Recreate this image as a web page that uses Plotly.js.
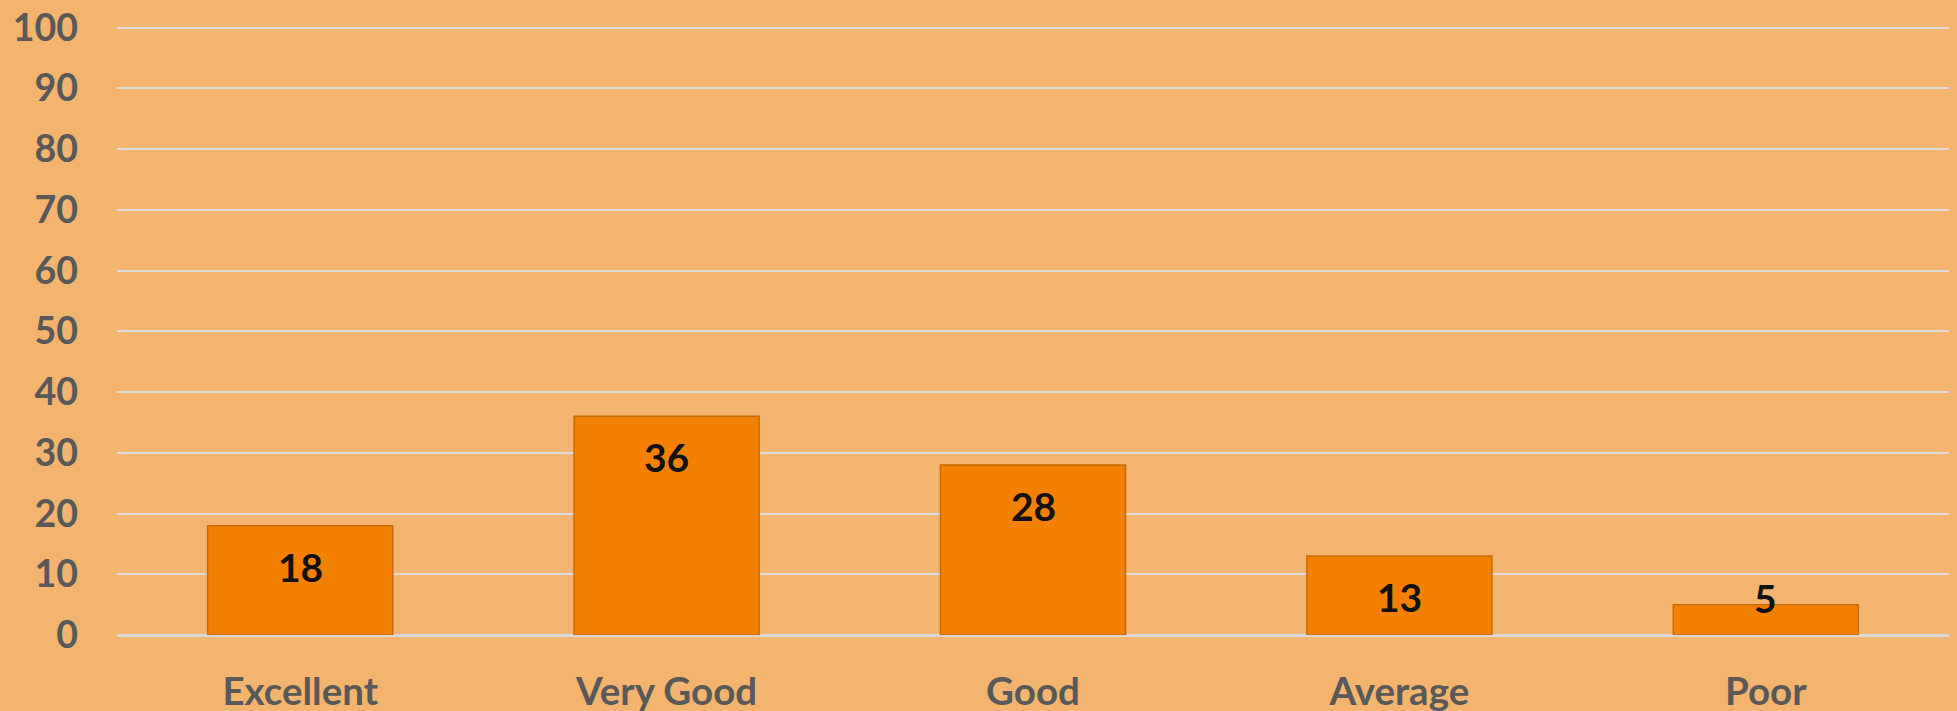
<!DOCTYPE html>
<html><head><meta charset="utf-8">
<script src="https://cdn.plot.ly/plotly-3.0.1.min.js"></script>
<style>html,body{margin:0;padding:0;background:#F2B46E;}</style>
</head><body>
<div id="chart" style="width:1957px;height:711px;"></div>
<script>
const categories = ["Excellent", "Very Good", "Good", "Average", "Poor"];
const values = [18, 36, 28, 13, 5];
const yTicks = [0, 10, 20, 30, 40, 50, 60, 70, 80, 90, 100];

const FONT = 'Lato, "Open Sans", sans-serif';
const yMax = 100.25;
const plotTop = 26, plotBottom = 76, H = 711;
const pxPerUnit = (H - plotTop - plotBottom) / yMax;

const trace = {
  type: 'bar',
  x: categories,
  y: values,
  marker: {color: '#F38000', line: {color: '#C86A08', width: 1.5}},
  hoverinfo: 'none'
};

const annotations = categories.map((c, i) => ({
  x: c, y: values[i], xref: 'x', yref: 'y',
  text: String(values[i]), showarrow: false,
  yanchor: 'middle',
  yshift: values[i] * pxPerUnit > 60 ? -41 : 7,
  font: {family: FONT, size: 39, color: '#111111', weight: 'bold'}
}));

const layout = {
  width: 1957, height: 711,
  paper_bgcolor: '#F2B46E', plot_bgcolor: '#F2B46E',
  margin: {l: 117, r: 8, t: plotTop, b: plotBottom},
  bargap: 0.495,
  showlegend: false,
  font: {family: FONT, color: '#595959'},
  annotations: annotations,
  xaxis: {
    showgrid: false, zeroline: false, showline: false, ticks: '',
    tickfont: {size: 38.5, color: '#595959', weight: 'bold'},
    ticklabelstandoff: 30
  },
  yaxis: {
    range: [0, yMax], tickvals: yTicks, ticktext: yTicks.map(String),
    showgrid: true, gridcolor: '#DCDCDC', gridwidth: 2,
    zeroline: true, zerolinecolor: '#D9D9D9', zerolinewidth: 3,
    showline: false, ticks: '',
    tickfont: {size: 37.5, color: '#595959', weight: 'bold'},
    ticklabelstandoff: 38
  }
};

Plotly.newPlot('chart', [trace], layout, {displayModeBar: false, staticPlot: true});
</script>
</body></html>
